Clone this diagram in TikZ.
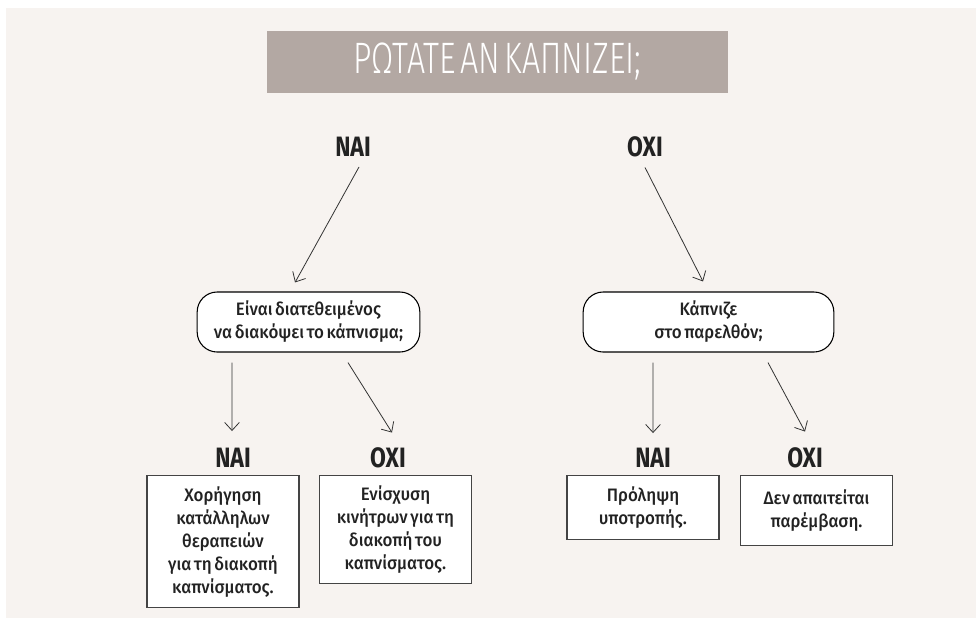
\documentclass[tikz,border=0pt]{standalone}
\usepackage{fontspec}
\usepackage{xcolor}
\usetikzlibrary{arrows.meta}
\setmainfont[WordSpace=0.6,FakeStretch=0.94]{Fira Sans Medium}
\newfontfamily\labelfont[FakeStretch=0.82]{Fira Sans}
\newfontfamily\titlefont[FakeStretch=0.73,WordSpace=0.5]{Fira Sans Light}
\definecolor{KPBack}{HTML}{F7F3F0}
\definecolor{KPTitle}{HTML}{B3A8A3}
\definecolor{KPLine}{HTML}{333333}
\definecolor{KPBox}{HTML}{444444}
\definecolor{KPText}{HTML}{222222}

\begin{document}
\begin{tikzpicture}[x=0.75pt,y=-0.75pt,
  answer/.style={inner sep=0pt,text=KPText,font=\labelfont\bfseries\fontsize{21}{21}\selectfont},
  question/.style={draw=black,line width=.8pt,rounded corners=15pt,fill=white,align=center,minimum height=45pt,text=KPText,font=\fontsize{13.5}{17.25}\selectfont},
  action/.style={draw=KPBox,line width=.9pt,fill=white,align=center,minimum width=114pt,anchor=north,text=KPText,font=\fontsize{13.5}{17.25}\selectfont},
  arr/.style={KPLine,line width=.6pt,-{Straight Barb[length=6pt,width=11pt]}}]
\path[use as bounding box] (0,0) rectangle (978,622);
\fill[KPBack] (6,8) rectangle (976,618);
% title
\node[fill=KPTitle,minimum width=345.75pt,minimum height=46.5pt,text=white,
  font=\titlefont\fontsize{33}{33}\selectfont] (title) at (497.5,62) {ΡΩΤΑΤΕ ΑΝ ΚΑΠΝΙΖΕΙ;};
% first answers
\node[answer] (yes) at (353,147) {NAI};
\node[answer] (no) at (645,147) {OXI};
% questions
\node[question,minimum width=167pt] (quit) at (308.5,322) {Είναι διατεθειμένος\\να διακόψει το κάπνισμα;};
\node[question,minimum width=188pt] (past) at (708.5,322) {Κάπνιζε\\στο παρελθόν;};
% second answers
\node[answer] (quityes) at (233,458) {NAI};
\node[answer] (quitno) at (388,458) {OXI};
\node[answer] (pastyes) at (653,458) {NAI};
\node[answer] (pastno) at (805,458) {OXI};
% actions
\node[action,minimum height=99pt] (therapy) at (223,475) {Χορήγηση\\κατάλληλων\\θεραπειών\\για τη διακοπή\\καπνίσματος.};
\node[action,minimum height=81pt] (motive) at (395.5,475) {Ενίσχυση\\κινήτρων για τη\\διακοπή του\\καπνίσματος.};
\node[action,minimum height=48pt] (relapse) at (643,475) {Πρόληψη\\υποτροπής.};
\node[action,minimum height=52.5pt] (none) at (816.5,475) {Δεν απαιτείται\\παρέμβαση.};
% arrows
\draw[arr] ([xshift=4.5pt,yshift=-7.5pt]yes.south) -- ([xshift=-10.1pt,yshift=6.75pt]quit.north);
\draw[arr] ([yshift=-7.5pt]no.south) -- ([xshift=-4.1pt,yshift=7.5pt]past.north);
\draw[arr] ([xshift=-57.4pt,yshift=-7.5pt]quit.south) -- ([xshift=-0.75pt,yshift=12.75pt]quityes.north);
\draw[arr] ([xshift=29.6pt,yshift=-7.5pt]quit.south) -- ([xshift=3pt,yshift=11.25pt]quitno.north);
\draw[arr] ([xshift=-41.6pt,yshift=-7.5pt]past.south) -- ([yshift=11.25pt]pastyes.north);
\draw[arr] ([xshift=44.6pt,yshift=-7.5pt]past.south) -- ([yshift=12pt]pastno.north);
\end{tikzpicture}
\end{document}
